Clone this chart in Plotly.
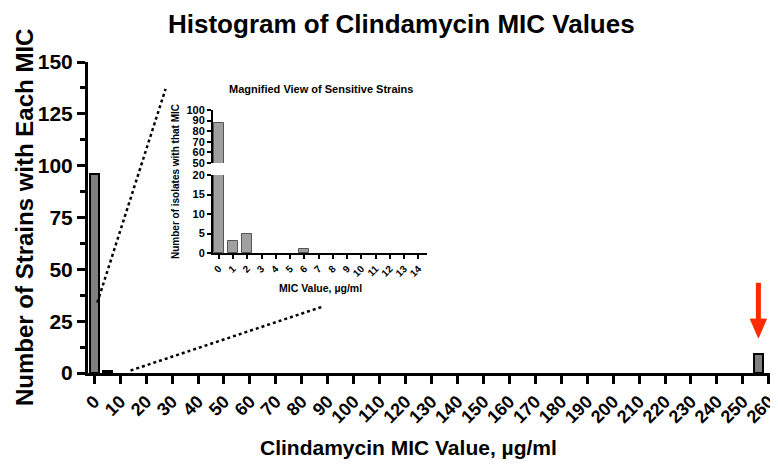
import plotly.graph_objects as go

# ---- data ----
main_mic = [0, 5, 256]
main_counts = [96, 1, 9]
main_xticks = list(range(0, 261, 10))
main_yticks = [0, 25, 50, 75, 100, 125, 150]

inset_mic = list(range(0, 15))
inset_counts = [88, 3, 5, 0, 0, 0, 1, 0, 0, 0, 0, 0, 0, 0, 0]
inset_low_ticks = [0, 5, 10, 15, 20]
inset_high_ticks = [50, 60, 70, 80, 90, 100]

FONT = "Liberation Sans, Arial, sans-serif"

fig = go.Figure()

# main histogram
fig.add_trace(go.Bar(
    x=main_mic, y=main_counts, width=3.6,
    marker=dict(color="#7f7f7f", line=dict(color="black", width=2)),
    xaxis="x", yaxis="y", showlegend=False,
))

# inset (broken axis): lower and upper part
ix = [m for m, c in zip(inset_mic, inset_counts) if c > 0]
iy = [c for c in inset_counts if c > 0]
for ya in ("y2", "y3"):
    fig.add_trace(go.Bar(
        x=ix, y=iy, width=0.7,
        marker=dict(color="#a0a0a0", line=dict(color="#555555", width=1)),
        xaxis="x2", yaxis=ya, showlegend=False,
    ))

# page body has an 8px margin: work in window pixels and shift
OFF = 8
W, H = 778 - OFF, 465 - OFF
L, R, T, B = 88 - OFF, 3, 62 - OFF, 465 - 373
pw, ph = W - L - R, H - T - B

def px(x):
    return (x - OFF - L) / pw

def py(y):
    return (H - B - (y - OFF)) / ph

fig.update_layout(
    width=W, height=H,
    margin=dict(l=L, r=R, t=T, b=B, autoexpand=False),
    plot_bgcolor="white", paper_bgcolor="white",
    font=dict(family=FONT, color="black"),
    bargap=0,
    xaxis=dict(
        range=[-2.4, 262.4], domain=[0, 1], automargin=False,
        tickvals=main_xticks, ticktext=[str(v) for v in main_xticks],
        tickangle=-45, tickfont=dict(size=18, weight="bold"),
        showline=True, linewidth=3, linecolor="black",
        ticks="outside", ticklen=8, tickwidth=3, tickcolor="black",
        showgrid=False, zeroline=False,
    ),
    yaxis=dict(
        range=[0, 150], domain=[0, 1], automargin=False,
        tickvals=main_yticks, tickfont=dict(size=21, weight="bold"),
        showline=True, linewidth=3, linecolor="black",
        ticks="outside", ticklen=8, tickwidth=3, tickcolor="black",
        minor=dict(dtick=12.5, ticklen=5, tickwidth=2.5, tickcolor="black", ticks="outside"),
        showgrid=False, zeroline=False,
    ),
    xaxis2=dict(
        range=[-0.4, 14.6], domain=[px(213), px(427)], anchor="y2", automargin=False,
        tickvals=inset_mic, ticktext=[str(v) for v in inset_mic],
        tickangle=-45, tickfont=dict(size=10, weight="bold"),
        showline=True, linewidth=2, linecolor="black",
        ticks="outside", ticklen=4, tickwidth=1.5, tickcolor="black",
        showgrid=False, zeroline=False,
    ),
    yaxis2=dict(
        range=[0, 20], domain=[py(253), py(175)], anchor="x2", automargin=False,
        tickvals=inset_low_ticks, tickfont=dict(size=11, weight="bold"),
        showline=True, linewidth=2, linecolor="black",
        ticks="outside", ticklen=4, tickwidth=1.5, tickcolor="black",
        showgrid=False, zeroline=False,
    ),
    yaxis3=dict(
        range=[50, 100], domain=[py(163), py(110)], anchor="x2", automargin=False,
        tickvals=inset_high_ticks, tickfont=dict(size=11, weight="bold"),
        showline=True, linewidth=2, linecolor="black",
        ticks="outside", ticklen=4, tickwidth=1.5, tickcolor="black",
        showgrid=False, zeroline=False,
    ),
)

# dotted zoom lines (decorative, main data coords)
fig.add_shape(type="line", xref="x", yref="y", x0=1.2, y0=34, x1=27.5, y1=137,
              line=dict(color="black", width=2.5, dash="dot"))
fig.add_shape(type="line", xref="x", yref="y", x0=14, y0=1.2, x1=88, y1=32,
              line=dict(color="black", width=2.5, dash="dot"))

# red arrow pointing at resistant bar
rx, ry = main_mic[2], main_counts[2]
fig.add_shape(type="line", xref="x", yref="y", x0=rx, x1=rx, y0=ry + 16, y1=ry + 34.5,
              line=dict(color="#ff2a00", width=5))
fig.add_shape(type="path", xref="x", yref="y",
              path=f"M {rx-3.1},{ry+17} L {rx+3.1},{ry+17} L {rx},{ry+8} Z",
              fillcolor="#ff2a00", line=dict(color="#ff2a00", width=1))

def label(text, x, y, size, angle=0):
    fig.add_annotation(text=text, xref="paper", yref="paper", x=px(x), y=py(y),
                       xanchor="center", yanchor="middle", textangle=angle,
                       showarrow=False, font=dict(size=size, weight="bold"))

label("Histogram of Clindamycin MIC Values", 401, 24, 26)
label("Number of Strains with Each MIC", 24, 218, 24, -90)
label("Clindamycin MIC Value, µg/ml", 408, 447, 21)
label("Magnified View of Sensitive Strains", 321, 89, 11)
label("Number of isolates with that MIC", 175, 182, 10, -90)
label("MIC Value, µg/ml", 320, 288, 10.5)

fig.write_html("out.html")
